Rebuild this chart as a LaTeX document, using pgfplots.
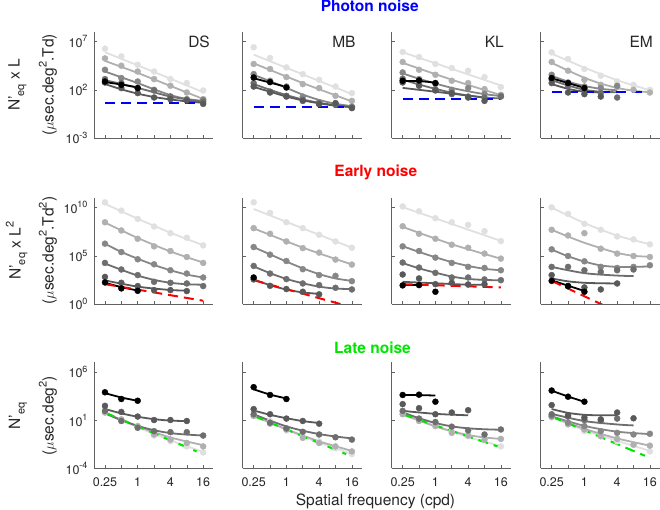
\documentclass[border=0pt]{standalone}
\usepackage{fontspec}
\setmainfont{TeX Gyre Heros}
\usepackage{pgfplots}
\pgfplotsset{compat=1.18}
\definecolor{axc}{gray}{0.38}
\definecolor{txc}{gray}{0.15}
\definecolor{c1}{gray}{0.35}
\definecolor{c2}{gray}{0.43}
\definecolor{c3}{gray}{0.53}
\definecolor{c4}{gray}{0.69}
\definecolor{c5}{gray}{0.88}
\definecolor{pblue}{rgb}{0,0,1}
\definecolor{ered}{rgb}{1,0,0}
\definecolor{lgreen}{rgb}{0,0.9,0}
\newcommand\tsup[1]{\raisebox{0.45em}{\fontsize{9}{9}\selectfont #1}}
\newcommand\lsup[1]{\raisebox{0.45em}{\fontsize{11}{11}\selectfont #1}}
\newcommand\lsub[1]{\raisebox{-0.3em}{\fontsize{11}{11}\selectfont #1}}
\newcommand\ser[3]{%
 \addplot[color=#1,line width=1.8pt,smooth,tension=0.5,mark=none] coordinates {#3};
 \addplot[color=#1,only marks,mark=*,mark size=3pt] coordinates {#2};}
\newcommand\pts[2]{\addplot[color=#1,only marks,mark=*,mark size=3pt] coordinates {#2};}
\newcommand\dline[2]{\addplot[color=#1,line width=2pt,dash pattern=on 10pt off 6pt,mark=none] coordinates {#2};}
\pgfplotsset{
 panel/.style={scale only axis,width=119pt,height=106pt,xmin=-2.67,xmax=4.6,
  axis x line=bottom,axis y line=left,
  axis line style={-,draw=axc,line width=0.6pt},
  every tick/.style={draw=axc,line width=0.6pt},
  tick align=inside,major tick length=3pt,
  xtick={-2,-1,0,1,2,3,4},xticklabels={},yticklabels={},
  tick label style={font=\fontsize{12.5}{12.5}\selectfont,text=txc},
  xticklabel style={yshift=-6pt},yticklabel style={xshift=-3pt},
  anchor=south west},
 r1/.style={ymin=-3,ymax=8,ytick={-3,2,7}},
 r2/.style={ymin=0,ymax=11,ytick={0,5,10}},
 r3/.style={ymin=-4,ymax=7,ytick={-4,1,6},xticklabels={0.25,{},1,{},4,{},16}},
}
\begin{document}
\begin{tikzpicture}[x=1pt,y=1pt]
\useasboundingbox (0,0) rectangle (660,510);
% ================= Row 1: photon noise =================
\begin{axis}[panel,r1,at={(94pt,372pt)},yticklabels={10\tsup{-3},10\tsup{2},10\tsup{7}}]
\ser{c5}{(-2,6.27)(-1,5.47)(0,4.6)(1,3.9)(2,3.11)(3,2.7)(4,1.93)}{(-2,5.9)(1,3.85)(4,1.75)}
\ser{c4}{(-2,5.26)(-1,4.5)(0,3.9)(1,3.11)(2,2.42)(3,1.72)(4,1.03)}{(-2,5.0)(0,3.75)(2,2.4)(4,1.05)}
\ser{c3}{(-2,4.08)(-1,3.22)(0,2.86)(1,2.0)(2,1.3)(3,1.03)(4,0.96)}{(-2,3.9)(-1,3.3)(0,2.7)(1,2.05)(2,1.45)(3,1.05)(4,0.85)}
\ser{c2}{(-2,3.11)(-1,2.7)(0,2.18)(1,1.93)(2,1.3)(3,0.96)(4,0.78)}{(-2,3.0)(0,2.2)(2,1.3)(4,0.75)}
\ser{c1}{(-2,2.76)(-1,2.18)(0,1.66)(1,1.2)(2,1.03)(3,0.89)(4,0.54)}{(-2,2.6)(-1,2.05)(0,1.6)(1,1.25)(2,1.0)(3,0.8)(4,0.65)}
\ser{black}{(-2,2.86)(-1,2.52)(0,2.18)}{(-2,2.8)(-1,2.55)(0,2.25)}
\dline{pblue}{(-2,0.68)(4,0.68)}
\end{axis}
\begin{axis}[panel,r1,at={(242.7pt,372pt)}]
\ser{c5}{(-2,6.41)(-1,5.3)(0,4.32)(1,3.63)(2,3.04)(3,2.34)(4,1.66)}{(-2,5.65)(1,3.6)(4,1.55)}
\ser{c4}{(-2,4.68)(-1,4.16)(0,3.32)(1,2.59)(2,2.18)(3,1.375)(4,0.85)}{(-2,4.75)(1,2.7)(4,0.8)}
\ser{c3}{(-2,3.63)(-1,2.94)(0,2.34)(1,1.3)(2,0.72)(3,0.61)(4,0.26)}{(-2,3.55)(-1,2.9)(0,2.2)(1,1.5)(2,0.95)(3,0.55)(4,0.3)}
\ser{c2}{(-2,2.7)(-1,1.82)(0,1.375)(1,0.96)(2,0.61)(3,0.44)(4,0.16)}{(-2,2.6)(-1,2.0)(0,1.45)(1,1.0)(2,0.65)(3,0.4)(4,0.2)}
\ser{c1}{(-2,2.34)(-1,1.72)(0,1.3)(1,0.85)(2,0.5)(3,0.61)(4,0.1)}{(-2,2.3)(-1,1.8)(0,1.3)(1,0.9)(2,0.6)(3,0.35)(4,0.2)}
\ser{black}{(-2,3.28)(-1,2.8)(0,2.24)}{(-2,3.2)(-1,2.75)(0,2.3)}
\dline{pblue}{(-2,0.26)(4,0.26)}
\end{axis}
\begin{axis}[panel,r1,at={(391.7pt,372pt)}]
\ser{c5}{(-2,5.92)(-1,5.4)(0,4.68)(1,4.26)(2,3.98)(3,3.32)(4,2.28)}{(-2,5.9)(4,2.45)}
\ser{c4}{(-2,4.89)(-1,4.08)(0,3.56)(1,2.94)(2,2.7)(3,2.07)(4,1.48)}{(-2,4.8)(1,3.05)(4,1.45)}
\ser{c3}{(-2,3.8)(-1,3.11)(0,2.63)(1,2.0)(2,2.18)(3,1.58)(4,1.375)}{(-2,3.7)(-1,3.15)(0,2.65)(1,2.2)(2,1.85)(3,1.55)(4,1.35)}
\ser{c2}{(-2,3.15)(-1,2.52)(0,2.07)(1,1.55)(2,1.3)(3,1.2)(4,1.3)}{(-2,3.05)(-1,2.55)(0,2.1)(1,1.7)(2,1.4)(3,1.2)(4,1.1)}
\ser{c1}{(-2,2.76)(-1,2.42)(0,1.93)(1,1.66)(2,1.2)(3,0.85)}{(-2,2.2)(1,1.6)(3,1.2)}
\ser{black}{(-2,2.94)(-1,2.97)(0,2.7)}{(-2,2.9)(-1,2.9)(0,2.75)}
\dline{pblue}{(-2,1.03)(4,1.03)}
\end{axis}
\begin{axis}[panel,r1,at={(540.7pt,372pt)}]
\ser{c5}{(-2,5.89)(-1,5.2)(0,4.16)(1,3.46)(2,2.86)(3,2.52)(4,2.0)}{(-2,5.75)(0,4.3)(2,3.0)(4,1.95)}
\ser{c4}{(-2,4.89)(-1,3.98)(0,3.04)(1,2.52)(2,2.28)(3,2.0)(4,1.72)}{(-2,4.8)(-1,4.0)(0,3.25)(1,2.65)(2,2.2)(3,1.9)(4,1.75)}
\ser{c3}{(-2,3.56)(-1,2.76)(0,2.34)(1,2.18)(2,2.42)}{(-2,3.45)(-1,2.85)(0,2.4)(1,2.1)(2,1.95)}
\ser{c2}{(-2,3.04)(-1,2.42)(0,2.0)(1,1.66)(2,1.2)}{(-2,3.0)(-1,2.45)(0,2.0)(1,1.8)(2,1.75)}
\ser{c1}{(-2,2.7)(-1,1.72)(0,1.55)(1,1.3)}{(-2,2.6)(-1,2.1)(0,1.8)(1,1.75)}
\ser{black}{(-2,3.22)(-1,2.7)(0,2.18)}{(-2,3.2)(-1,2.7)(0,2.2)}
\dline{pblue}{(-2,1.76)(4,1.76)}
\end{axis}
% ================= Row 2: early noise =================
\begin{axis}[panel,r2,at={(94pt,206pt)},yticklabels={10\tsup{0},10\tsup{5},10\tsup{10}}]
\ser{c5}{(-2,10.55)(-1,9.69)(0,8.83)(1,8.04)(2,7.35)(3,6.88)(4,6.08)}{(-2,10.4)(0,8.85)(2,7.4)(4,6.1)}
\ser{c4}{(-2,8.48)(-1,7.63)(0,6.77)(1,5.98)(2,5.5)(3,4.88)(4,4.26)}{(-2,8.45)(0,6.85)(2,5.45)(4,4.3)}
\ser{c3}{(-2,6.26)(-1,5.39)(0,4.64)(1,4.12)(2,3.5)(3,3.16)(4,2.75)}{(-2,6.25)(-1,5.4)(0,4.7)(1,4.05)(2,3.5)(3,3.05)(4,2.75)}
\ser{c2}{(-2,4.26)(-1,3.58)(0,3.0)(1,2.3)(2,2.2)(3,2.13)(4,1.86)}{(-2,4.2)(-1,3.55)(0,2.95)(1,2.5)(2,2.2)(3,2.05)(4,2.0)}
\ser{c1}{(-2,2.81)(-1,2.2)(0,1.86)(1,1.44)(2,1.44)(3,1.34)}{(-2,2.45)(0,1.8)(2,1.45)(3,1.4)}
\ser{black}{(-2,2.24)(-1,1.62)(0,1.37)}{(-2,2.2)(-1,1.75)(0,1.4)}
\dline{ered}{(-2,2.06)(4,0.34)}
\end{axis}
\begin{axis}[panel,r2,at={(242.7pt,206pt)}]
\ser{c5}{(-2,10.55)(-1,9.45)(0,8.48)(1,7.87)(2,7.18)(3,6.49)(4,5.84)}{(-2,9.86)(1,7.85)(4,5.84)}
\ser{c4}{(-2,7.87)(-1,7.29)(0,6.49)(1,5.8)(2,5.33)(3,4.61)(4,4.09)}{(-2,7.85)(1,5.85)(4,4.1)}
\ser{c3}{(-2,5.91)(-1,5.12)(0,4.46)(1,3.61)(2,3.0)(3,2.92)(4,2.37)}{(-2,5.9)(-1,5.15)(0,4.4)(1,3.7)(2,3.1)(3,2.65)(4,2.4)}
\ser{c2}{(-2,3.95)(-1,3.16)(0,2.58)(1,2.13)(2,1.96)(3,1.68)(4,1.51)}{(-2,3.9)(-1,3.2)(0,2.6)(1,2.15)(2,1.8)(3,1.6)(4,1.55)}
\ser{c1}{(-2,2.55)(-1,1.89)(0,1.55)(1,1.27)(2,1.0)}{(-2,2.55)(-1,1.95)(0,1.5)(1,1.2)(2,1.05)}
\pts{black}{(-2,2.75)}
\dline{ered}{(-2,2.47)(4,-0.33)}
\end{axis}
\begin{axis}[panel,r2,at={(391.7pt,206pt)}]
\ser{c5}{(-2,10.13)(-1,9.62)(0,8.9)(1,8.48)(2,8.21)(3,7.56)(4,6.53)}{(-2,10.05)(4,6.55)}
\ser{c4}{(-2,8.07)(-1,7.29)(0,6.77)(1,6.15)(2,5.84)(3,5.23)(4,4.71)}{(-2,8.0)(1,6.2)(4,4.7)}
\ser{c3}{(-2,5.98)(-1,5.5)(0,4.81)(1,4.26)(2,3.85)(3,3.74)(4,3.5)}{(-2,6.0)(-1,5.4)(0,4.85)(1,4.35)(2,3.95)(3,3.65)(4,3.5)}
\ser{c2}{(-2,4.3)(-1,3.78)(0,3.23)(1,2.75)(2,2.75)(3,2.55)(4,2.47)}{(-2,4.25)(-1,3.7)(0,3.25)(1,2.85)(2,2.6)(3,2.5)(4,2.45)}
\ser{c1}{(-2,3.06)(-1,2.65)(0,2.06)(1,2.2)(2,2.03)(3,2.06)}{(-2,2.3)(0,2.15)(2,2.0)(3,2.0)}
\ser{black}{(-2,1.93)(-1,1.96)(0,1.27)}{(-2,1.95)(-1,1.95)}
\dline{ered}{(-2,2.06)(4,1.72)}
\end{axis}
\begin{axis}[panel,r2,at={(540.7pt,206pt)}]
\ser{c5}{(-2,10.03)(-1,9.35)(0,8.32)(1,7.7)(2,7.01)(3,6.7)(4,6.19)}{(-2,10.0)(0,8.4)(2,7.1)(4,6.2)}
\ser{c4}{(-2,7.7)(-1,7.11)(0,7.35)(1,5.74)(2,5.23)(3,4.98)(4,4.88)}{(-2,7.7)(-1,7.0)(0,6.35)(1,5.8)(2,5.3)(3,5.0)(4,4.9)}
\ser{c3}{(-2,5.67)(-1,4.98)(0,4.43)(1,3.85)(2,3.74)(3,3.85)(4,4.02)}{(-2,5.65)(-1,4.95)(0,4.4)(1,4.0)(2,3.85)(3,3.85)(4,3.9)}
\ser{c2}{(-2,3.85)(-1,3.85)(0,3.5)(1,3.33)(2,3.5)(3,3.58)}{(-2,3.85)(0,3.2)(2,2.95)(3,2.9)}
\ser{c1}{(-2,3.0)(-1,1.86)(0,1.72)(1,1.51)(2,2.13)}{(-2,2.65)(-1,2.35)(0,2.2)(1,2.15)(2,2.13)}
\ser{black}{(-2,2.4)(-1,1.86)(0,1.27)}{(-2,2.45)(-1,1.9)(0,1.35)}
\dline{ered}{(-2,2.4)(4,-2.4)}
\end{axis}
% ================= Row 3: late noise =================
\begin{axis}[panel,r3,at={(94pt,41.7pt)},yticklabels={10\tsup{-4},10\tsup{1},10\tsup{6}}]
\ser{c5}{(-2,1.85)(-1,0.91)(0,0.21)(1,-0.6)(2,-1.2)(3,-1.73)(4,-2.36)}{(-2,1.7)(0,0.25)(2,-1.1)(4,-2.3)}
\ser{c4}{(-2,1.79)(-1,1.08)(0,0.38)(1,-0.49)(2,-1.02)(3,-1.37)(4,-1.73)}{(-2,1.75)(0,0.35)(2,-0.8)(4,-1.6)}
\ser{c2}{(-2,1.96)(-1,0.91)(0,0.21)(1,-0.15)(2,-0.25)(3,-0.25)(4,-0.6)}{(-2,1.7)(-1,1.0)(0,0.4)(1,-0.05)(2,-0.35)(3,-0.5)(4,-0.6)}
\ser{c1}{(-2,2.48)(-1,1.85)(0,1.37)(1,1.01)(2,1.01)(3,0.91)}{(-2,2.15)(-1,1.7)(0,1.35)(1,1.1)(2,0.95)(3,0.9)}
\ser{black}{(-2,3.89)(-1,3.19)(0,3.01)}{(-2,3.8)(-1,3.35)(0,3.0)}
\dline{lgreen}{(-2,1.79)(3.6,-2.25)}
\end{axis}
\begin{axis}[panel,r3,at={(242.7pt,41.7pt)}]
\ser{c5}{(-2,2.14)(-1,0.91)(0,-0.07)(1,-0.67)(2,-1.2)(3,-1.9)(4,-2.53)}{(-2,1.6)(0,0.0)(2,-1.35)(4,-2.5)}
\ser{c4}{(-2,1.43)(-1,0.63)(0,0.03)(1,-0.84)(2,-1.37)(3,-1.73)(4,-2.25)}{(-2,1.45)(0,0.05)(2,-1.2)(4,-2.2)}
\ser{c2}{(-2,1.61)(-1,0.74)(0,0.14)(1,-0.21)(2,-0.49)(3,-0.78)(4,-1.02)}{(-2,1.6)(-1,0.95)(0,0.35)(1,-0.1)(2,-0.45)(3,-0.7)(4,-0.9)}
\ser{c1}{(-2,2.14)(-1,1.61)(0,1.16)(1,0.91)(2,0.63)}{(-2,2.0)(-1,1.55)(0,1.2)(1,0.9)(2,0.7)}
\ser{black}{(-2,4.42)(-1,3.61)(0,3.19)}{(-2,4.2)(-1,3.65)(0,3.25)}
\dline{lgreen}{(-2,1.43)(3.65,-2.53)}
\end{axis}
\begin{axis}[panel,r3,at={(391.7pt,41.7pt)}]
\ser{c5}{(-2,1.72)(-1,1.08)(0,0.45)(1,-0.15)(2,-0.67)(3,-1.02)(4,-1.73)}{(-2,1.7)(0,0.4)(2,-0.75)(4,-1.7)}
\ser{c4}{(-2,1.61)(-1,0.91)(0,0.38)(1,-0.32)(2,-0.6)(3,-1.02)(4,-0.95)}{(-2,1.6)(-1,0.95)(0,0.35)(1,-0.15)(2,-0.55)(3,-0.8)(4,-0.95)}
\ser{c2}{(-2,1.96)(-1,1.16)(0,0.8)(1,0.32)(2,-0.07)(3,-0.49)(4,0.03)}{(-2,1.8)(-1,1.2)(0,0.7)(1,0.35)(2,0.15)(3,0.05)(4,0.0)}
\ser{c1}{(-2,2.66)(-1,2.24)(0,1.61)(1,1.79)(2,2.03)}{(-2,1.96)(0,1.65)(2,1.5)}
\ser{black}{(-2,3.61)(-1,3.64)(0,2.91)}{(-2,3.62)(-1,3.6)(0,3.55)}
\dline{lgreen}{(-2,1.61)(3.8,-1.73)}
\end{axis}
\begin{axis}[panel,r3,at={(540.7pt,41.7pt)}]
\ser{c5}{(-2,1.26)(-1,0.74)(0,-0.15)(1,-0.67)(2,-1.2)(3,-1.55)(4,-2.25)}{(-2,1.3)(0,-0.05)(2,-1.15)(4,-2.2)}
\ser{c4}{(-2,1.37)(-1,0.56)(0,0.03)(1,-0.67)(2,-0.95)(3,-1.55)(4,-1.65)}{(-2,1.35)(0,0.1)(2,-0.9)(4,-1.65)}
\ser{c3}{(-2,1.43)(-1,0.74)(0,0.38)(1,-0.15)(2,-0.32)(3,-0.49)(4,-0.42)}{(-2,1.4)(0,0.4)(2,-0.2)(4,-0.45)}
\ser{c2}{(-2,1.61)(-1,1.37)(0,1.01)(1,0.91)(2,1.16)}{(-2,1.65)(0,0.9)(2,0.55)(3,0.45)}
\ser{c1}{(-2,2.56)(-1,1.5)(0,1.26)(1,1.08)(2,1.79)(3,1.19)}{(-2,2.15)(-1,1.75)(0,1.55)(1,1.5)(2,1.5)}
\ser{black}{(-2,4.07)(-1,3.43)(0,2.91)}{(-2,4.05)(-1,3.45)(0,2.9)}
\dline{lgreen}{(-2,1.37)(3.7,-2.7)}
\end{axis}
% ================= Texts =================
\begin{scope}[every node/.style={inner sep=0pt,text=txc}]
\node[anchor=base east,font=\fontsize{15.5}{15.5}\selectfont] at (210,462.5) {DS};
\node[anchor=base east,font=\fontsize{15.5}{15.5}\selectfont] at (355.7,462.5) {MB};
\node[anchor=base east,font=\fontsize{15.5}{15.5}\selectfont] at (504,462.5) {KL};
\node[anchor=base east,font=\fontsize{15.5}{15.5}\selectfont] at (653,462.5) {EM};
\node[anchor=base,font=\fontsize{15.5}{15.5}\selectfont\bfseries,text=pblue] at (369.7,498) {Photon noise};
\node[anchor=base,font=\fontsize{15.5}{15.5}\selectfont\bfseries,text=ered] at (375.8,333.3) {Early noise};
\node[anchor=base,font=\fontsize{15.5}{15.5}\selectfont\bfseries,text=lgreen] at (372.5,156.7) {Late noise};
\node[anchor=base,font=\fontsize{15.5}{15.5}\selectfont] at (375.5,4.5) {Spatial frequency (cpd)};
\node[anchor=base,rotate=90,font=\fontsize{15.5}{15.5}\selectfont] at (19.5,425) {N'\lsub{eq} x L};
\node[anchor=base,rotate=90,font=\fontsize{15.5}{15.5}\selectfont] at (53.5,425) {($\mu$sec.deg\lsup{2}.Td)};
\node[anchor=base,rotate=90,font=\fontsize{15.5}{15.5}\selectfont] at (20.5,259.3) {N'\lsub{eq} x L\lsup{2}};
\node[anchor=base,rotate=90,font=\fontsize{15.5}{15.5}\selectfont] at (53.5,259.3) {($\mu$sec.deg\lsup{2}.Td\lsup{2})};
\node[anchor=base,rotate=90,font=\fontsize{15.5}{15.5}\selectfont] at (20,94.2) {N'\lsub{eq}};
\node[anchor=base,rotate=90,font=\fontsize{15.5}{15.5}\selectfont] at (53.5,94.2) {($\mu$sec.deg\lsup{2})};
\end{scope}
\end{tikzpicture}
\end{document}
